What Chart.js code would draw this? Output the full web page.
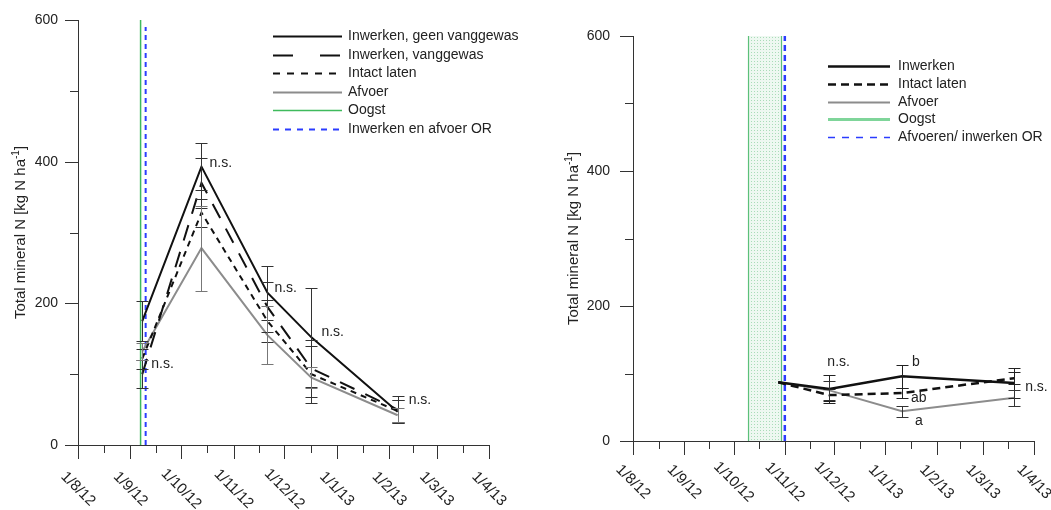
<!DOCTYPE html>
<html lang="nl">
<head>
<meta charset="UTF-8" />
<title>Total mineral N</title>
<style>
  body { margin: 0; background: #fff; }
  .wrap { position: relative; width: 1051px; height: 510px; }
  #left { position: absolute; left: 0; top: 0; }
  #right { position: absolute; left: 540px; top: 0; }
</style>
</head>
<body>
<div class="wrap">
  <canvas id="left" width="540" height="510"></canvas>
  <canvas id="right" width="511" height="510"></canvas>
</div>
<script src="https://cdn.jsdelivr.net/npm/chart.js"></script>
<script>
// x-as: maandstarts
const monthTicks = ["2012-08-01", "2012-09-01", "2012-10-01", "2012-11-01", "2012-12-01",
                    "2013-01-01", "2013-02-01", "2013-03-01", "2013-04-01"];
const monthLabels = ["1/8/12", "1/9/12", "1/10/12", "1/11/12", "1/12/12", "1/1/13", "1/2/13", "1/3/13", "1/4/13"];
const yTicks = [0, 200, 400, 600];
const yMinor = [100, 300, 500];

// linker grafiek
const leftDates = ["2012-09-08", "2012-10-13", "2012-11-21", "2012-12-17", "2013-02-06"];
const leftGeen = [175, 393, 215, 152, 47];
const leftGeenErr = [28, 33, 38, 70, 16];
const leftVang = [100, 370, 195, 108, 50];
const leftVangErr = [20, 35, 35, 40, 19];
const leftIntact = [122, 328, 175, 100, 48];
const leftIntactErr = [14, 20, 30, 40, 15];
const leftAfvoer = [132, 278, 155, 95, 42];
const leftAfvoerErr = [12, 60, 41, 15, 10];
const leftOogst = "2012-09-07";
const leftOR = "2012-09-10";
const leftSigText = ["n.s.", "n.s.", "n.s.", "n.s.", "n.s."];
const leftSigIdx = [0, 1, 2, 3, 4];
const leftSigY = [114, 398, 222, 160, 64];

// rechter grafiek
const rightDates = ["2012-10-28", "2012-11-28", "2013-01-11", "2013-03-20"];
const rightInwerken = [87, 77, 96, 86];
const rightInwerkenErr = [0, 21, 17, 22];
const rightIntact = [87, 68, 71, 93];
const rightIntactErr = [0, 9, 7, 9];
const rightAfvoer = [87, 75, 44, 64];
const rightAfvoerErr = [0, 14, 8, 12];
const rightOogst = ["2012-10-10", "2012-10-30"];
const rightOR = "2012-11-01";
const rightSigText = ["n.s.", "b", "ab", "a", "n.s."];
const rightSigIdx = [1, 2, 2, 2, 3];
const rightSigY = [117, 117, 64, 30, 80];

const FONT = '"Liberation Sans", Arial, sans-serif';
const BLACK = "#111";
const GREY = "#8c8c8c";
const BLUE = "#2b3cff";

function day(s) {
  const p = s.split("-").map(Number);
  return (Date.UTC(p[0], p[1] - 1, p[2]) - Date.UTC(2012, 7, 1)) / 864e5;
}
const pts = (dates, vals) => dates.map((d, i) => ({ x: day(d), y: vals[i] }));
const vline = (d, top) => [{ x: day(d), y: 0 }, { x: day(d), y: top }];

function axesPlugin(o) {
  return {
    id: "axesDeco",
    afterDraw(chart) {
      const { ctx, chartArea: a, scales: { x, y } } = chart;
      ctx.save();
      ctx.strokeStyle = "#333";
      ctx.lineWidth = 1;
      ctx.beginPath();
      ctx.moveTo(a.left + 0.5, a.top);
      ctx.lineTo(a.left + 0.5, a.bottom);
      ctx.moveTo(a.left, a.bottom + 0.5);
      ctx.lineTo(a.right, a.bottom + 0.5);
      monthTicks.forEach((t, i) => {
        const px = Math.round(x.getPixelForValue(day(t))) + 0.5;
        ctx.moveTo(px, a.bottom);
        ctx.lineTo(px, a.bottom + 14);
        if (i < monthTicks.length - 1) {
          const mid = Math.round(x.getPixelForValue((day(t) + day(monthTicks[i + 1])) / 2)) + 0.5;
          ctx.moveTo(mid, a.bottom);
          ctx.lineTo(mid, a.bottom + 8);
        }
      });
      yTicks.forEach(v => {
        const py = Math.round(y.getPixelForValue(v)) + 0.5;
        ctx.moveTo(a.left - 13, py);
        ctx.lineTo(a.left, py);
      });
      yMinor.forEach(v => {
        const py = Math.round(y.getPixelForValue(v)) + 0.5;
        ctx.moveTo(a.left - 8, py);
        ctx.lineTo(a.left, py);
      });
      ctx.stroke();

      ctx.fillStyle = "#222";
      ctx.font = "14px " + FONT;
      ctx.textAlign = "right";
      ctx.textBaseline = "middle";
      yTicks.forEach(v => ctx.fillText(String(v), a.left - o.yGap, y.getPixelForValue(v)));

      ctx.font = "15px " + FONT;
      ctx.textAlign = "center";
      monthTicks.forEach((t, i) => {
        ctx.save();
        ctx.translate(x.getPixelForValue(day(t)), a.bottom + o.xDrop);
        ctx.rotate(Math.PI / 4);
        ctx.fillText(monthLabels[i], 0, 0);
        ctx.restore();
      });

      // y-titel met superscript
      const main = "Total mineral N [kg N ha", sup = "-1", end = "]";
      ctx.save();
      ctx.translate(o.titleX, (a.top + a.bottom) / 2);
      ctx.rotate(-Math.PI / 2);
      ctx.textAlign = "left";
      ctx.textBaseline = "alphabetic";
      ctx.font = "15px " + FONT;
      const w1 = ctx.measureText(main).width, w3 = ctx.measureText(end).width;
      ctx.font = "10px " + FONT;
      const w2 = ctx.measureText(sup).width;
      let cx = -(w1 + w2 + w3) / 2;
      ctx.font = "15px " + FONT;
      ctx.fillText(main, cx, 5);
      ctx.font = "10px " + FONT;
      ctx.fillText(sup, cx + w1, -1);
      ctx.font = "15px " + FONT;
      ctx.fillText(end, cx + w1 + w2, 5);
      ctx.restore();
      ctx.restore();
    }
  };
}

const errorBarPlugin = {
  id: "errorBars",
  afterDatasetsDraw(chart) {
    const ctx = chart.ctx, ys = chart.scales.y;
    ctx.save();
    ctx.lineWidth = 1;
    chart.data.datasets.forEach((ds, i) => {
      if (!ds.errors) return;
      const meta = chart.getDatasetMeta(i);
      ctx.strokeStyle = ds.errorColor || "#444";
      ctx.beginPath();
      meta.data.forEach((pt, j) => {
        const e = ds.errors[j];
        if (!e) return;
        const v = ds.data[j].y;
        const x = Math.round(pt.x) + 0.5;
        const top = Math.round(ys.getPixelForValue(v + e)) + 0.5;
        const bot = Math.round(ys.getPixelForValue(v - e)) + 0.5;
        ctx.moveTo(x, top); ctx.lineTo(x, bot);
        ctx.moveTo(x - 6, top); ctx.lineTo(x + 6, top);
        ctx.moveTo(x - 6, bot); ctx.lineTo(x + 6, bot);
      });
      ctx.stroke();
    });
    ctx.restore();
  }
};

function legendPlugin(o) {
  return {
    id: "lineLegend",
    afterDraw(chart) {
      const ctx = chart.ctx;
      ctx.save();
      ctx.font = "14px " + FONT;
      ctx.textBaseline = "middle";
      ctx.textAlign = "left";
      ctx.fillStyle = "#222";
      let row = 0;
      chart.data.datasets.forEach(ds => {
        if (!ds.label) return;
        const y = Math.round(o.y + row * o.rowH) + 0.5;
        ctx.beginPath();
        ctx.strokeStyle = ds.legendColor || ds.borderColor;
        ctx.lineWidth = ds.legendWidth || ds.borderWidth;
        ctx.setLineDash(ds.legendDash || ds.borderDash || []);
        ctx.moveTo(o.x, y);
        ctx.lineTo(o.x + o.len, y);
        ctx.stroke();
        ctx.setLineDash([]);
        ctx.fillText(ds.label, o.x + o.len + o.gap, y);
        row++;
      });
      ctx.restore();
    }
  };
}

function sigPlugin(dates, texts, idx, vals, dx) {
  return {
    id: "sigLabels",
    afterDraw(chart) {
      const { ctx, scales: { x, y } } = chart;
      ctx.save();
      ctx.font = "14px " + FONT;
      ctx.fillStyle = "#222";
      ctx.textBaseline = "middle";
      ctx.textAlign = "left";
      texts.forEach((t, i) => {
        ctx.fillText(t, x.getPixelForValue(day(dates[idx[i]])) + dx[i], y.getPixelForValue(vals[i]));
      });
      ctx.restore();
    }
  };
}

function baseOptions(yWidth, xHeight, padding) {
  return {
    responsive: false,
    animation: false,
    events: [],
    layout: { padding: padding },
    elements: { point: { radius: 0 }, line: { tension: 0 } },
    plugins: { legend: { display: false }, tooltip: { enabled: false } },
    scales: {
      x: {
        type: "linear", min: 0, max: day("2013-04-01"),
        ticks: { display: false }, grid: { display: false }, border: { display: false },
        afterFit: s => { s.height = xHeight; }
      },
      y: {
        min: 0, max: 600,
        ticks: { display: false }, grid: { display: false }, border: { display: false },
        afterFit: s => { s.width = yWidth; }
      }
    }
  };
}

new Chart(document.getElementById("left").getContext("2d"), {
  type: "line",
  data: {
    datasets: [
      { label: "Inwerken, geen vanggewas", data: pts(leftDates, leftGeen), errors: leftGeenErr,
        borderColor: BLACK, borderWidth: 2, errorColor: "#333" },
      { label: "Inwerken, vanggewas", data: pts(leftDates, leftVang), errors: leftVangErr,
        borderColor: BLACK, borderWidth: 2, borderDash: [16, 12], legendDash: [20, 27], errorColor: "#333" },
      { label: "Intact laten", data: pts(leftDates, leftIntact), errors: leftIntactErr,
        borderColor: BLACK, borderWidth: 2, borderDash: [6, 5], legendDash: [7, 7], errorColor: "#333" },
      { label: "Afvoer", data: pts(leftDates, leftAfvoer), errors: leftAfvoerErr,
        borderColor: GREY, borderWidth: 2, errorColor: "#777" },
      { label: "Oogst", data: vline(leftOogst, 600), borderColor: "#3fba5c", borderWidth: 1.5 },
      { label: "Inwerken en afvoer OR", data: vline(leftOR, 590), borderColor: BLUE, borderWidth: 2,
        borderDash: [5, 4], legendDash: [6, 6] }
    ]
  },
  options: baseOptions(78, 65, { left: 0, top: 20, right: 51, bottom: 0 }),
  plugins: [
    axesPlugin({ yGap: 20, xDrop: 44, titleX: 20 }),
    errorBarPlugin,
    legendPlugin({ x: 273, y: 36, rowH: 18.6, len: 69, gap: 6 }),
    sigPlugin(leftDates, leftSigText, leftSigIdx, leftSigY, [9, 8, 7, 10, 11])
  ]
});

// stippelpatroon voor de oogstperiode
const pc = document.createElement("canvas");
pc.width = 3; pc.height = 3;
const pctx = pc.getContext("2d");
pctx.fillStyle = "#eef8f1";
pctx.fillRect(0, 0, 3, 3);
pctx.fillStyle = "#a9dcb8";
pctx.fillRect(1, 1, 1, 1);
const rctx = document.getElementById("right").getContext("2d");
const dots = rctx.createPattern(pc, "repeat");

new Chart(rctx, {
  type: "line",
  data: {
    datasets: [
      { label: "Inwerken", data: pts(rightDates, rightInwerken), errors: rightInwerkenErr,
        borderColor: BLACK, borderWidth: 2.5, errorColor: "#222" },
      { label: "Intact laten", data: pts(rightDates, rightIntact), errors: rightIntactErr,
        borderColor: BLACK, borderWidth: 2.5, borderDash: [8, 5], errorColor: "#222" },
      { label: "Afvoer", data: pts(rightDates, rightAfvoer), errors: rightAfvoerErr,
        borderColor: GREY, borderWidth: 2, errorColor: "#333" },
      { label: "Oogst", data: [...vline(rightOogst[0], 600), { x: day(rightOogst[0]), y: null },
          ...vline(rightOogst[1], 600).reverse()],
        borderColor: "#5cc07a", borderWidth: 1.2, legendColor: "#7fd59a", legendWidth: 3 },
      { label: "Afvoeren/ inwerken OR", data: vline(rightOR, 600), borderColor: BLUE, borderWidth: 2.5,
        borderDash: [6, 4], legendDash: [7, 7], legendWidth: 1.5 },
      { data: [{ x: day(rightOogst[0]), y: 600 }, { x: day(rightOogst[1]), y: 600 }],
        borderWidth: 0, fill: "origin", backgroundColor: dots, order: 10 }
    ]
  },
  options: baseOptions(93, 69, { left: 0, top: 36, right: 17, bottom: 0 }),
  plugins: [
    axesPlugin({ yGap: 23, xDrop: 41, titleX: 33 }),
    errorBarPlugin,
    legendPlugin({ x: 288, y: 66, rowH: 17.8, len: 62, gap: 8 }),
    sigPlugin(rightDates, rightSigText, rightSigIdx, rightSigY, [-2, 10, 9, 13, 11])
  ]
});
</script>
</body>
</html>
